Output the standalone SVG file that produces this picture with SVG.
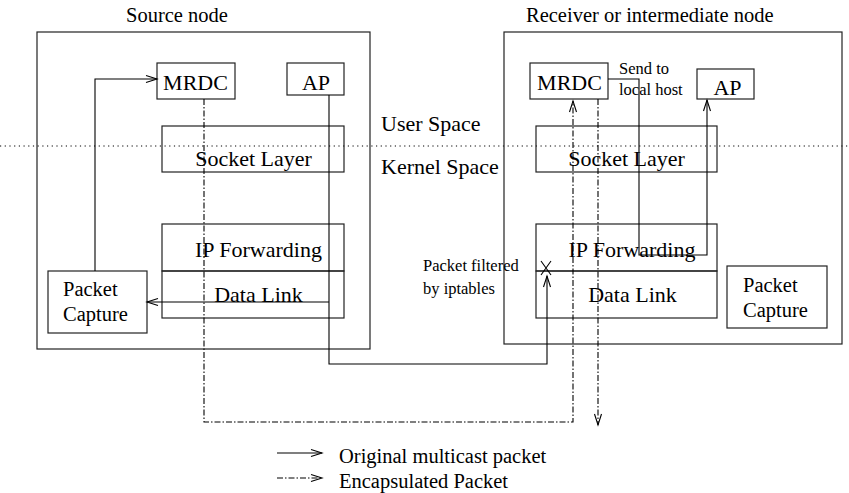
<svg xmlns="http://www.w3.org/2000/svg" width="849" height="493" viewBox="0 0 849 493">
<style>
.box{fill:none;stroke:#222;stroke-width:1.2}
.t{font-family:"Liberation Serif","Times New Roman",serif;fill:#000}
.big{font-size:22px}
.mid{font-size:20.5px}
.sm{font-size:16.5px}
.c{text-anchor:middle}
.ln{fill:none;stroke:#000;stroke-width:1.1}
.dd{fill:none;stroke:#000;stroke-width:1.1;stroke-dasharray:6 2 1.5 2}
.dot{fill:none;stroke:#000;stroke-width:1;stroke-dasharray:1.2 3.5}
</style>
<defs>
<marker id="arr" markerUnits="userSpaceOnUse" markerWidth="14" markerHeight="10" viewBox="-12 -5 14 10" refX="0" refY="0" orient="auto" overflow="visible">
<path d="M -11 -3.5 L 0 0 L -11 3.5" fill="none" stroke="#000" stroke-width="1.1"/>
</marker>
</defs>
<rect width="849" height="493" fill="#fff"/>
<g id="divider">
<line class="dot" x1="0" y1="146" x2="849" y2="146"/>
<text class="t big" x="381" y="131">User Space</text>
<text class="t big" x="381" y="174">Kernel Space</text>
</g>
<g id="source-node">
<rect class="box" x="37" y="32" width="333" height="317"/>
<text class="t mid" x="126" y="22">Source node</text>
</g>
<g id="src-mrdc"><rect class="box" x="157" y="63" width="78" height="36"/><text class="t big c" x="195.5" y="90">MRDC</text></g>
<g id="src-ap"><rect class="box" x="287" y="63" width="57" height="32"/><text class="t big c" x="316" y="90">AP</text></g>
<g id="src-socket"><rect class="box" x="162" y="126" width="182" height="46"/><text class="t big c" x="253.5" y="166">Socket Layer</text></g>
<g id="src-ipfwd"><rect class="box" x="162" y="224" width="182" height="47"/><text class="t big c" x="258.5" y="257">IP Forwarding</text></g>
<g id="src-datalink"><rect class="box" x="162" y="271" width="182" height="47"/><text class="t big c" x="258.5" y="302">Data Link</text></g>
<g id="src-capture"><rect class="box" x="48" y="271" width="99" height="62"/><text class="t mid" x="63" y="296">Packet</text><text class="t mid" x="63" y="321">Capture</text></g>
<g id="recv-node">
<rect class="box" x="504" y="32" width="338" height="312"/>
<text class="t mid" x="526" y="22">Receiver or intermediate node</text>
</g>
<g id="rcv-mrdc"><rect class="box" x="530" y="63" width="78" height="36"/><text class="t big c" x="569.5" y="90">MRDC</text></g>
<g id="rcv-ap"><rect class="box" x="697" y="69" width="57" height="30"/><text class="t big c" x="727.5" y="95">AP</text></g>
<g id="rcv-socket"><rect class="box" x="536" y="126" width="181" height="46"/><text class="t big c" x="626.5" y="166">Socket Layer</text></g>
<g id="rcv-ipfwd"><rect class="box" x="536" y="224" width="181" height="47"/><text class="t big c" x="632" y="257">IP Forwarding</text></g>
<g id="rcv-datalink"><rect class="box" x="536" y="271" width="181" height="47"/><text class="t big c" x="632.5" y="302">Data Link</text></g>
<g id="rcv-capture"><rect class="box" x="727" y="266" width="100" height="62"/><text class="t mid" x="743" y="292">Packet</text><text class="t mid" x="743" y="317">Capture</text></g>
<g id="connectors">
<path class="ln" d="M95 271 V79 H157" marker-end="url(#arr)"/>
<path class="ln" d="M329 95 V364 H547 V276" marker-end="url(#arr)"/>
<path class="ln" d="M329 302 H147" marker-end="url(#arr)"/>
<path class="ln" d="M541 261 L551 275 M551 261 L541 275"/>
<path class="dd" d="M204 99 V422 H573 V101" marker-end="url(#arr)"/>
<path class="dd" d="M598 99 V425" marker-end="url(#arr)"/>
<path class="ln" d="M608 79 H639 V255 H707 V100" marker-end="url(#arr)"/>
</g>
<g id="labels">
<text class="t sm" x="619" y="74">Send to</text>
<text class="t sm" x="619" y="95">local host</text>
<text class="t sm" x="423" y="271">Packet filtered</text>
<text class="t sm" x="423" y="294">by iptables</text>
</g>
<g id="legend">
<path class="ln" d="M277 453 H322" marker-end="url(#arr)"/>
<path class="dd" d="M277 478 H322" marker-end="url(#arr)"/>
<text class="t mid" x="339" y="463">Original multicast packet</text>
<text class="t mid" x="339" y="488">Encapsulated Packet</text>
</g>
</svg>
